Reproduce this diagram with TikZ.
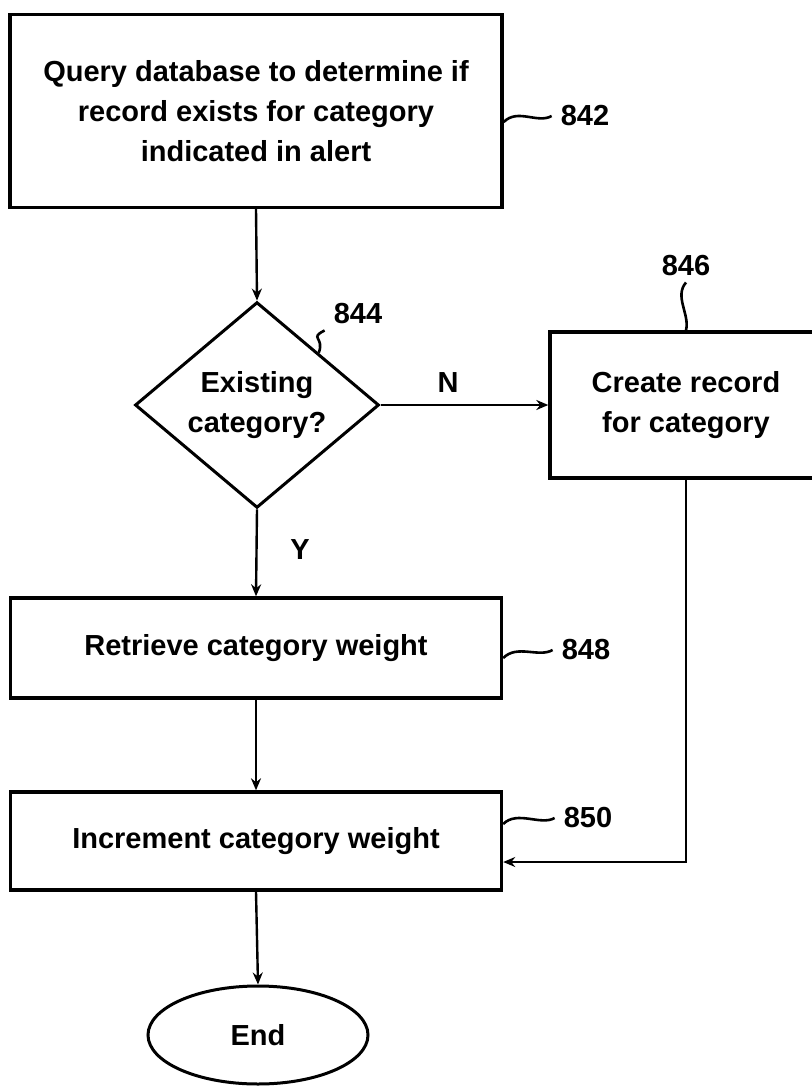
\documentclass[tikz,border=0pt]{standalone}
\usepackage{fontspec}
\setmainfont{Liberation Sans}
\usetikzlibrary{shapes.geometric,arrows.meta}

\begin{document}
\begin{tikzpicture}[x = 1pt, y = -1pt,
    font = \fontsize{29}{40}\selectfont\bfseries,
    box/.style = {shape = rectangle, draw, line width = 3.4pt, inner sep = 0pt, align = center},
    num/.style = {inner xsep = 9pt, inner ysep = 6pt},
    link/.style = {line width = 2.4pt, -{Stealth[length = 12pt, width = 10pt]}},
    wave/.style = {line width = 2.6pt}]
    \useasboundingbox (0,0) rectangle (811,1086);
    \node (Q) [box, minimum width = 492pt, minimum height = 193pt] at (256,111)
        {Query database to determine if\\record exists for category\\indicated in alert};
    \node (E) [shape = diamond, draw, line width = 3pt, inner sep = 0pt, align = center,
        minimum width = 244pt, minimum height = 188pt] at (257,405) {Existing\\category?};
    \node (C) [box, minimum width = 272pt, minimum height = 146pt] at (686,405)
        {Create record\\for category};
    \node (R) [box, minimum width = 491pt, minimum height = 100pt] at (256,648)
        {Retrieve category weight};
    \node (I) [box, minimum width = 491pt, minimum height = 98pt] at (256,841)
        {Increment category weight};
    \node (End) [shape = ellipse, draw, line width = 3pt, minimum width = 220pt, minimum height = 98pt] at (258,1035) {End};
    \node (L2) [num] at (585,116) {842};
    \node (L4) [num] at (358,314) {844};
    \node (L6) [num] at (686,266) {846};
    \node (L8) [num] at (586,650) {848};
    \node (L0) [num] at (588,818) {850};
    \node (N) at (448,383) {N};
    \node (Y) at (300,550) {Y};
    \draw [link] (Q.south) -- (E.north);
    \draw [link] (E.east) -- (C.west);
    \draw [link] (E.south) -- (R.north);
    \draw [link] (R.south) -- (I.north);
    \draw [link] (C.south) |- ([yshift = -21pt]I.east);
    \draw [link] (I.south) -- (End.north);
    \draw [wave] (Q.east |- L2.west) ++(0,6) .. controls +(14,-14) and +(-14,8) .. (L2.west);
    \draw [wave] (E.north east) .. controls +(6,-16) and +(-16,8) .. (L4.south west);
    \draw [wave] (L6.south) .. controls +(-12,14) and +(4,-16) .. (C.north);
    \draw [wave] (R.east |- L8.west) ++(0,8) .. controls +(14,-14) and +(-14,8) .. (L8.west);
    \draw [wave] (I.east |- L0.west) ++(0,6) .. controls +(14,-14) and +(-14,8) .. (L0.west);
\end{tikzpicture}
\end{document}
